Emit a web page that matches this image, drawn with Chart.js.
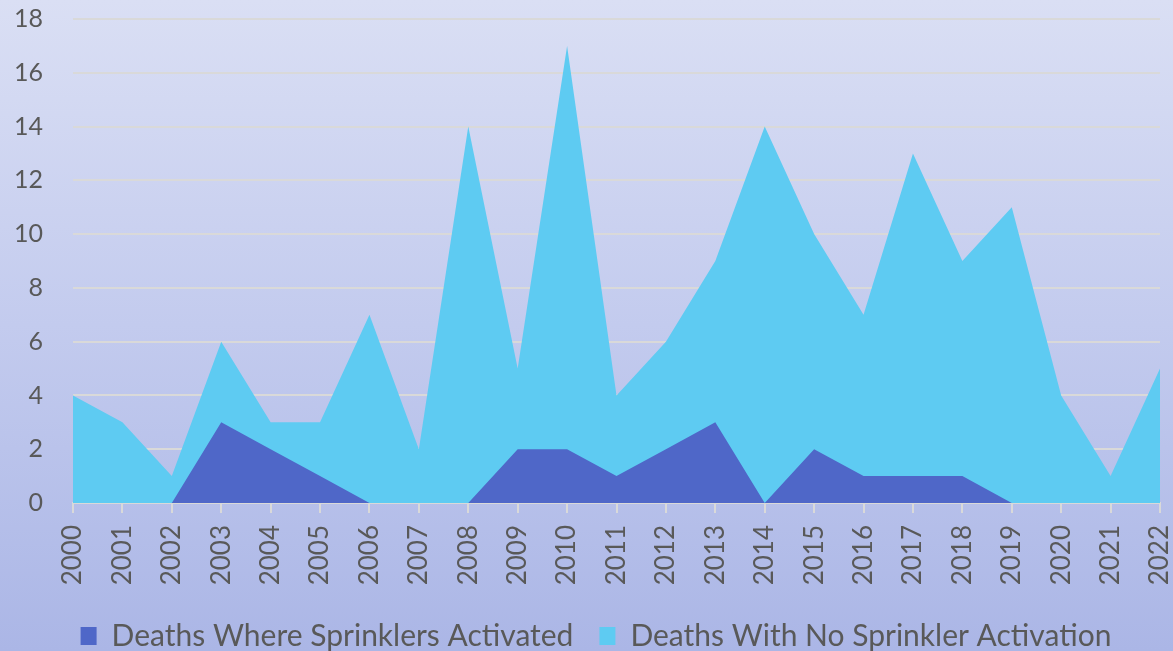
<!DOCTYPE html>
<html>
<head>
<meta charset="utf-8">
<script src="https://cdn.jsdelivr.net/npm/chart.js@4/dist/chart.umd.min.js"></script>
<style>
  html, body { margin: 0; padding: 0; }
  body {
    width: 1173px; height: 651px; overflow: hidden;
    background: linear-gradient(to bottom, #dadff4 0%, #c3cbee 50%, #abb6e6 100%);
  }
  canvas { display: block; }
</style>
</head>
<body>
<canvas id="chart" width="1173" height="651"></canvas>
<script>
// Chart data
const years = ['2000','2001','2002','2003','2004','2005','2006','2007','2008','2009','2010','2011',
               '2012','2013','2014','2015','2016','2017','2018','2019','2020','2021','2022'];
const activated =   [0, 0, 0, 3, 2, 1, 0, 0, 0, 2, 2, 1, 2, 3, 0, 2, 1, 1, 1, 0, 0, 0, 0];
const noActivation = [4, 3, 1, 6, 3, 3, 7, 2, 14, 5, 17, 4, 6, 9, 14, 10, 7, 13, 9, 11, 4, 1, 5];
const yTicks = [0, 2, 4, 6, 8, 10, 12, 14, 16, 18];

const textColor = '#595959';
const gridColor = '#d9d9d9';
const fontFamily = 'Lato, "Open Sans", sans-serif';

// the original legend sits a bit right of centre
const legendShift = {
    id: 'legendShift',
    afterLayout(chart) {
        chart.legend.left += 16;
        chart.legend.right += 16;
    }
};

const ctx = document.getElementById('chart').getContext('2d');
const chart = new Chart(ctx, {
    type: 'line',
    data: {
        labels: years,
        datasets: [
            {
                label: 'Deaths Where Sprinklers Activated',
                data: activated,
                backgroundColor: '#4f67c8',
                borderColor: '#4f67c8',
                borderWidth: 0,
                pointRadius: 0,
                fill: 'origin',
                tension: 0
            },
            {
                label: 'Deaths With No Sprinkler Activation',
                data: noActivation,
                backgroundColor: '#5ecbf2',
                borderColor: '#5ecbf2',
                borderWidth: 0,
                pointRadius: 0,
                fill: 'origin',
                tension: 0
            }
        ]
    },
    options: {
        responsive: false,
        animation: false,
        devicePixelRatio: 1,
        layout: { padding: { top: 19, right: 13, left: 0, bottom: -10 } },
        plugins: {
            tooltip: { enabled: false },
            legend: {
                position: 'bottom',
                labels: {
                    color: textColor,
                    font: { family: fontFamily, size: 30 },
                    boxWidth: 16,
                    boxHeight: 18,
                    padding: 26
                }
            }
        },
        scales: {
            x: {
                offset: false,
                grid: {
                    drawOnChartArea: false,
                    drawTicks: true,
                    tickLength: 10,
                    color: gridColor,
                    lineWidth: 2
                },
                border: { color: gridColor, width: 2 },
                ticks: {
                    color: textColor,
                    font: { family: fontFamily, size: 26 },
                    minRotation: 90,
                    maxRotation: 90,
                    autoSkip: false,
                    padding: 12
                },
                afterFit: (scale) => {
                    scale.height = 92;
                    scale.paddingLeft = 0;
                    scale.paddingRight = 0;
                }
            },
            y: {
                min: 0,
                max: 18,
                afterBuildTicks: (scale) => { scale.ticks = yTicks.map(v => ({ value: v })); },
                grid: {
                    drawTicks: false,
                    color: gridColor,
                    lineWidth: 2
                },
                border: { display: false },
                ticks: {
                    color: textColor,
                    font: { family: fontFamily, size: 25 },
                    padding: 30
                },
                afterFit: (scale) => {
                    scale.width = 73;
                    scale.paddingTop = 0;
                    scale.paddingBottom = 0;
                }
            }
        }
    },
    plugins: [legendShift]
});
</script>
</body>
</html>
